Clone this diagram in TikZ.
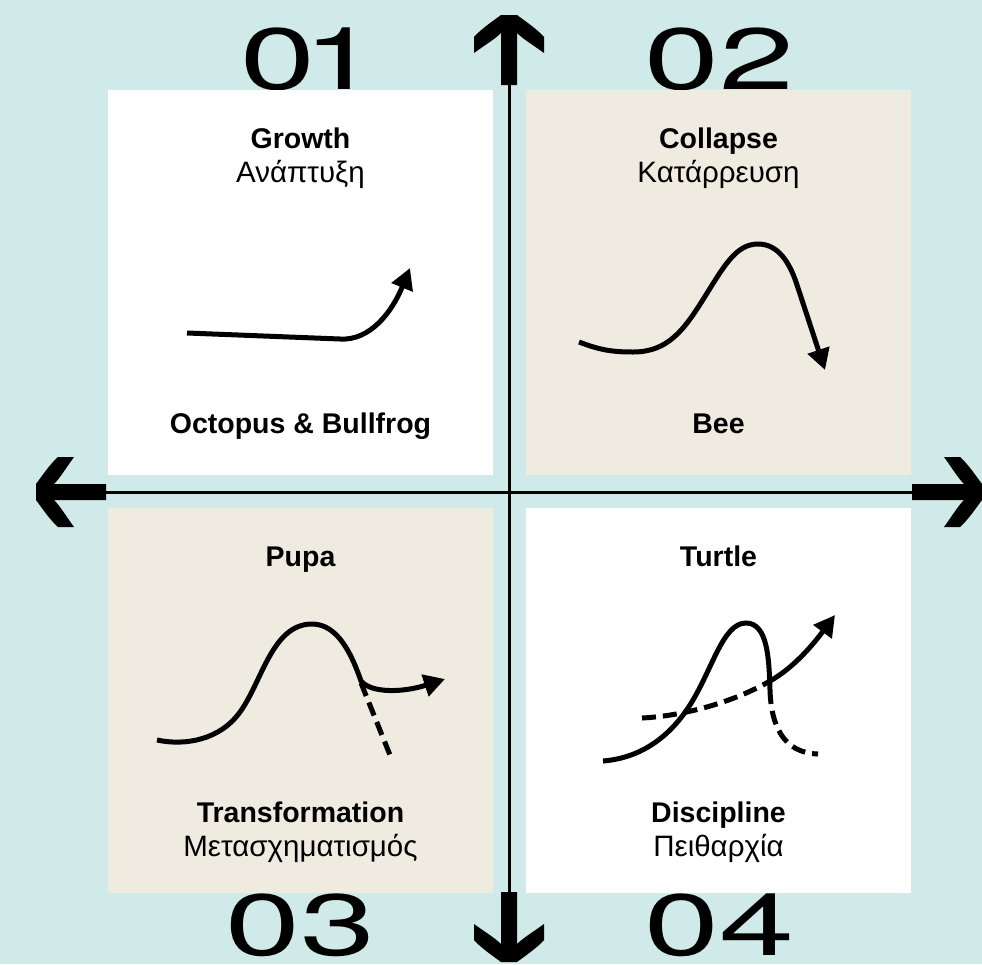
\documentclass[tikz,border=0pt]{standalone}
\usepackage{fontspec}
\setmainfont{Liberation Sans}
\newfontfamily\numfont{TeX Gyre Heros}
\usetikzlibrary{arrows.meta}
\usetikzlibrary{positioning}
\definecolor{bgteal}{HTML}{D0EAE9}
\definecolor{sand}{HTML}{EFEBE1}

\tikzset{
	panel/.style={minimum size=385pt, inner sep=0pt, draw=none},
	digit/.style={inner sep=0pt, anchor=base west, font=\numfont\fontsize{87}{87}\selectfont},
	title/.style={inner sep=0pt, anchor=base, font=\fontsize{28.5}{34}\selectfont\bfseries},
	subtitle/.style={inner sep=0pt, anchor=base, font=\fontsize{29.5}{34}\selectfont},
	trend/.style={line width=5pt},
	faded/.style={trend, dash pattern=on 14pt off 7pt},
	arrowed/.style={-{Triangle[length=21pt,width=22pt]}},
	axisline/.style={line width=3pt},
	pics/bigarrow/.style={code={
		\fill (0,-8) -- (0,8) .. controls (-6,16) and (-14,28) .. (-22,35) -- (-38,35)
			.. controls (-30,24) and (-24,14) .. (-18,8) -- (-70,8) -- (-70,-8) -- (-18,-8)
			.. controls (-24,-14) and (-30,-24) .. (-38,-35) -- (-22,-35)
			.. controls (-14,-28) and (-6,-16) .. (0,-8) -- cycle;
	}}
}

\begin{document}
\begin{tikzpicture}[x=1pt, y=-1pt]
					\fill[bgteal] (0,0) rectangle (982,964);
					\useasboundingbox (0,0) rectangle (982,964);
					%numbers
					\node[digit] (n1) at (240,89) {\scalebox{1.55}[1]{0\kern-0.09em1}};
					\node[digit] (n2) at (644,89) {\scalebox{1.55}[1]{02}};
					\node[digit] (n3) at (225,955) {\scalebox{1.55}[1]{03}};
					\node[digit] (n4) at (644,955) {\scalebox{1.55}[1]{04}};
					%panels
					\node[panel, fill=white] (q1) at (300.5,282.5) {};
					\node[panel, fill=sand] (q2) at (718.5,282.5) {};
					\node[panel, fill=sand] (q3) at (300.5,700.5) {};
					\node[panel, fill=white] (q4) at (718.5,700.5) {};
					%draw axes
					\coordinate (axW) at (36,492);
					\coordinate (axE) at (982,492);
					\coordinate (axN) at (509,15);
					\coordinate (axS) at (509,962);
					\draw[axisline] (axW) -- (axE);
					\draw[axisline] (axN) -- (axS);
					\pic[rotate=180] at (axW) {bigarrow};
					\pic at (axE) {bigarrow};
					\pic[rotate=90] at (axN) {bigarrow};
					\pic[rotate=-90] at (axS) {bigarrow};
					%labels
					\node[title] (q1a) at (300.5,148) {Growth};
					\node[subtitle] (q1b) at (300.5,182) {Ανάπτυξη};
					\node[title] (q1c) at (300.5,433) {Octopus \& Bullfrog};
					\node[title] (q2a) at (718.5,148) {Collapse};
					\node[subtitle] (q2b) at (718.5,182) {Κατάρρευση};
					\node[title] (q2c) at (718.5,433) {Bee};
					\node[title] (q3a) at (300.5,566) {Pupa};
					\node[title] (q3b) at (300.5,822) {Transformation};
					\node[subtitle] (q3c) at (300.5,856) {Μετασχηματισμός};
					\node[title] (q4a) at (718.5,566) {Turtle};
					\node[title] (q4b) at (718.5,822) {Discipline};
					\node[subtitle] (q4c) at (718.5,856) {Πειθαρχία};
					%growth
					\draw[trend, arrowed] (187,333) -- (340,339) .. controls (370,341) and (392,312) .. (410,268);
					%collapse
					\draw[trend, arrowed] (579,342) .. controls (600,350) and (612,352) .. (633,352)
						.. controls (668,352) and (684,330) .. (704,298) .. controls (724,266) and (736,244) .. (758,244)
						.. controls (778,244) and (790,262) .. (798,288) -- (825,370);
					%transformation
					\draw[trend, arrowed] (157,740) .. controls (185,746) and (220,740) .. (240,712)
						.. controls (262,682) and (272,624) .. (312,624) .. controls (338,624) and (352,655) .. (361,681)
						.. controls (372,694) and (405,692) .. (445,679);
					\draw[faded] (361,683) -- (390,755);
					%discipline
					\draw[trend] (603,761) .. controls (640,758) and (668,738) .. (688,708)
						.. controls (712,672) and (722,623) .. (746,623) .. controls (768,623) and (769,660) .. (770,690);
					\draw[faded] (770,690) .. controls (771,725) and (783,753) .. (818,754);
					\draw[faded] (642,718) .. controls (682,716) and (732,703) .. (770,681);
					\draw[trend, arrowed] (770,681) .. controls (795,667) and (815,642) .. (835,615);
				\end{tikzpicture}
\end{document}
